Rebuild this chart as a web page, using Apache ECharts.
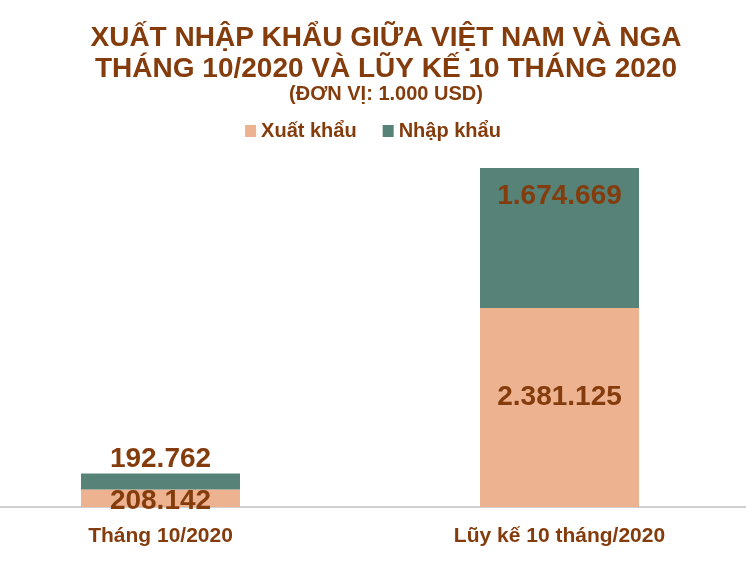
<!DOCTYPE html>
<html>
<head>
<meta charset="utf-8">
<script src="https://cdn.jsdelivr.net/npm/echarts@6/dist/echarts.min.js"></script>
<style>
  html, body { margin: 0; padding: 0; background: #fff; }
  #chart { width: 746px; height: 567px; }
</style>
</head>
<body>
<div id="chart"></div>
<script>
// danh mục và số liệu (đơn vị: 1.000 USD)
var categories = ['Tháng 10/2020', 'Lũy kế 10 tháng/2020'];
var xuatKhau = [208142, 2381125];
var nhapKhau = [192762, 1674669];
var seriesNames = ['Xuất khẩu', 'Nhập khẩu'];

var brown = '#843C0C';
var font = '"Liberation Sans", Arial, sans-serif';

function fmt(v) {
    return String(v).replace(/\B(?=(\d{3})+(?!\d))/g, '.');
}

var chart = echarts.init(document.getElementById('chart'));

var labelStyle = {
    show: true,
    position: 'inside',
    formatter: function (p) { return fmt(p.value); },
    fontFamily: font,
    fontWeight: 'bold',
    fontSize: 28,
    color: brown
};

var option = {
    backgroundColor: '#fff',
    title: [{
        text: 'XUẤT NHẬP KHẨU GIỮA VIỆT NAM VÀ NGA\nTHÁNG 10/2020 VÀ LŨY KẾ 10 THÁNG 2020',
        left: 381,
        textAlign: 'center',
        top: 18,
        textStyle: {
            fontFamily: font,
            fontWeight: 'bold',
            fontSize: 28,
            lineHeight: 31,
            color: brown
        }
    }, {
        text: '(ĐƠN VỊ: 1.000 USD)',
        left: 381,
        textAlign: 'center',
        top: 79,
        textStyle: {
            fontFamily: font,
            fontWeight: 'bold',
            fontSize: 20,
            color: brown
        }
    }],
    legend: {
        data: seriesNames,
        top: 116,
        left: 'center',
        itemWidth: 11,
        itemHeight: 12,
        itemGap: 26,
        icon: 'rect',
        textStyle: {
            fontFamily: font,
            fontWeight: 'bold',
            fontSize: 20,
            color: brown
        }
    },
    grid: {
        left: -39,
        right: -13,
        top: 168,
        bottom: 60,
        outerBoundsMode: 'none'
    },
    xAxis: {
        type: 'category',
        data: categories,
        axisLine: { lineStyle: { color: '#BFBFBF', width: 1.5 } },
        axisTick: { show: false },
        axisLabel: {
            margin: 19,
            fontFamily: font,
            fontWeight: 'bold',
            fontSize: 21,
            color: brown
        }
    },
    yAxis: {
        type: 'value',
        min: 0,
        max: 'dataMax',
        show: false,
        splitLine: { show: false }
    },
    series: [{
        name: seriesNames[0],
        type: 'bar',
        stack: 'total',
        barWidth: 159,
        data: xuatKhau.map(function (v, i) {
            if (i === 1) {
                return { value: v, label: { offset: [0, -10] } };
            }
            return { value: v, label: { offset: [0, 3] } };
        }),
        itemStyle: { color: '#EDB290' },
        label: labelStyle
    }, {
        name: seriesNames[1],
        type: 'bar',
        stack: 'total',
        barWidth: 159,
        data: nhapKhau.map(function (v, i) {
            // cột nhỏ: nhãn nằm phía trên cột
            if (i === 0) {
                return { value: v, label: { position: 'top', distance: 0 } };
            }
            return { value: v, label: { position: 'insideTop', distance: 14 } };
        }),
        itemStyle: { color: '#568278' },
        label: labelStyle
    }]
};

chart.setOption(option);
</script>
</body>
</html>
